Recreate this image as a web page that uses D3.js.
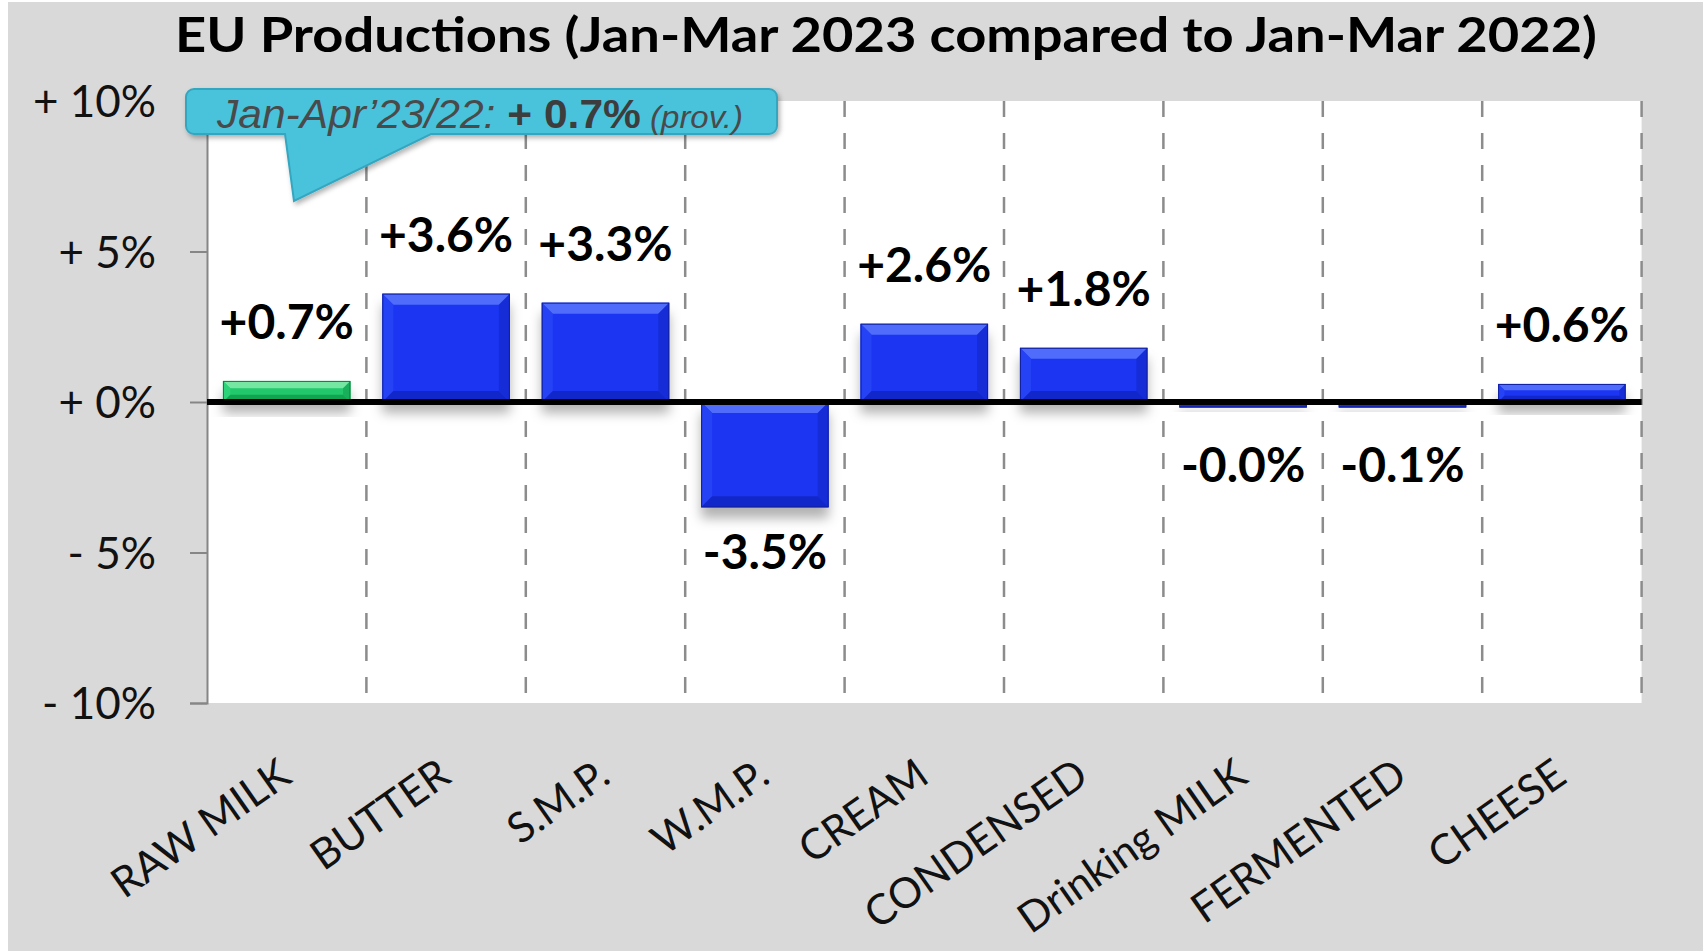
<!DOCTYPE html>
<html>
<head>
<meta charset="utf-8">
<script src="https://cdn.jsdelivr.net/npm/d3@7"></script>
<style>
  html, body { margin: 0; padding: 0; background: #fff; }
  svg { display: block; }
</style>
</head>
<body>
<div id="chart"></div>
<script>
// data
var categories = ["RAW MILK", "BUTTER", "S.M.P.", "W.M.P.", "CREAM", "CONDENSED", "Drinking MILK", "FERMENTED", "CHEESE"];
var changes = [0.7, 3.6, 3.3, -3.5, 2.6, 1.8, -0.04, -0.1, 0.6];
var barGroup = ["milk", "product", "product", "product", "product", "product", "product", "product", "product"];
var yTicks = [10, 5, 0, -5, -10];
var titleText = "EU Productions (Jan-Mar 2023 compared to Jan-Mar 2022)";
var calloutParts = ["Jan-Apr\u201923/22: ", "+ 0.7%", " (prov.)"];

var W = 1708, H = 951;
var plotL = 207, plotR = 1641.6, plotT = 101, plotB = 703;

var svg = d3.select("#chart").append("svg")
    .attr("width", W)
    .attr("height", H);

var defs = svg.append("defs");
defs.append("filter").attr("id", "barShadow")
    .attr("x", "-20%").attr("y", "-30%").attr("width", "140%").attr("height", "200%")
  .append("feDropShadow")
    .attr("dx", 0).attr("dy", 11).attr("stdDeviation", 6)
    .attr("flood-color", "#000").attr("flood-opacity", 0.3);
defs.append("filter").attr("id", "boxShadow")
    .attr("x", "-10%").attr("y", "-20%").attr("width", "120%").attr("height", "160%")
  .append("feDropShadow")
    .attr("dx", 2).attr("dy", 3).attr("stdDeviation", 2.5)
    .attr("flood-color", "#000").attr("flood-opacity", 0.3);

// outer chart area
svg.append("rect")
    .attr("x", 8).attr("y", 2)
    .attr("width", 1695).attr("height", H - 2)
    .attr("fill", "#d9d9d9");

// plot area
svg.append("rect")
    .attr("x", plotL).attr("y", plotT)
    .attr("width", plotR - plotL).attr("height", plotB - plotT)
    .attr("fill", "#fff");

var x = d3.scaleBand()
    .domain(categories)
    .range([plotL, plotR])
    .paddingInner(0.2)
    .paddingOuter(0.1);

var y = d3.scaleLinear()
    .domain([-10, 10])
    .range([plotB, plotT]);

// dashed separators between categories
var step = x.step();
var sepX = d3.range(1, categories.length + 1).map(function (i) { return x.range()[0] + i * step; });
svg.append("g").selectAll("line")
    .data(sepX)
    .join("line")
      .attr("x1", function (d) { return d; })
      .attr("x2", function (d) { return d; })
      .attr("y1", plotT)
      .attr("y2", plotB)
      .attr("stroke", "#8c8c8c")
      .attr("stroke-width", 2.5)
      .attr("stroke-dasharray", "16 16");

// y axis
var yAxis = svg.append("g")
    .attr("transform", "translate(" + plotL + ",0)")
    .call(d3.axisLeft(y)
      .tickValues(yTicks)
      .tickSize(17)
      .tickPadding(34)
      .tickFormat(function (d) { return (d < 0 ? "- " : "+ ") + Math.abs(d) + "%"; }));
yAxis.select(".domain").attr("stroke", "#868686").attr("stroke-width", 2);
yAxis.selectAll(".tick line").attr("stroke", "#868686").attr("stroke-width", 2);
yAxis.selectAll(".tick text")
    .style("font-family", "Lato, 'Open Sans', sans-serif")
    .style("font-size", "44px")
    .attr("fill", "#111")
    .attr("dy", "0.36em");

// bars
var palette = {
  milk:    {main: "#20c86c", top: "#7eeaa8", side: "#2fd47a", dark: "#12a050", edge: "#0e7e3e"},
  product: {main: "#1a36f2", top: "#5572fb", side: "#2844f5", dark: "#1226c4", edge: "#0f1fa0"}
};

var bars = categories.map(function (c, i) {
  var v = changes[i];
  var y0 = Math.min(y(v), y(0)), y1 = Math.max(y(v), y(0));
  return {cat: c, v: v, x: x(c), w: x.bandwidth(), y: y0, h: Math.max(y1 - y0, 5.5), col: palette[barGroup[i]]};
});

var barG = svg.append("g");
var bar = barG.selectAll("g").data(bars).join("g");

bar.append("rect")
    .attr("x", function (d) { return d.x; })
    .attr("y", function (d) { return d.y; })
    .attr("width", function (d) { return d.w; })
    .attr("height", function (d) { return d.h; })
    .attr("fill", function (d) { return d.col.main; })
    .attr("filter", "url(#barShadow)");

// bevel faces
function face(d, which) {
  var b = Math.min(11, d.h * 0.35, d.w * 0.1);
  var x0 = d.x, x1 = d.x + d.w, y0 = d.y, y1 = d.y + d.h;
  var pts = {
    top:    [[x0, y0], [x1, y0], [x1 - b, y0 + b], [x0 + b, y0 + b]],
    left:   [[x0, y0], [x0 + b, y0 + b], [x0 + b, y1 - b], [x0, y1]],
    right:  [[x1, y0], [x1, y1], [x1 - b, y1 - b], [x1 - b, y0 + b]],
    bottom: [[x0, y1], [x1, y1], [x1 - b, y1 - b], [x0 + b, y1 - b]]
  }[which];
  return pts.map(function (p) { return p.join(","); }).join(" ");
}
[["top", "top"], ["left", "side"], ["right", "dark"], ["bottom", "dark"]].forEach(function (f) {
  bar.append("polygon")
      .attr("points", function (d) { return face(d, f[0]); })
      .attr("fill", function (d) { return d.col[f[1]]; })
      .attr("opacity", f[0] == "right" ? 0.6 : 0.9);
});
bar.append("rect")
    .attr("x", function (d) { return d.x + 0.5; })
    .attr("y", function (d) { return d.y + 0.5; })
    .attr("width", function (d) { return d.w - 1; })
    .attr("height", function (d) { return Math.max(d.h - 1, 0.5); })
    .attr("fill", "none")
    .attr("stroke", function (d) { return d.col.edge; })
    .attr("stroke-width", 1);

// zero line
svg.append("line")
    .attr("x1", plotL).attr("x2", plotR)
    .attr("y1", y(0)).attr("y2", y(0))
    .attr("stroke", "#000")
    .attr("stroke-width", 6);

// value labels (small negatives sit a little lower, as in the original)
svg.append("g").selectAll("text")
    .data(bars)
    .join("text")
      .attr("x", function (d) { return d.x + d.w / 2; })
      .attr("y", function (d) { return d.v >= 0 ? y(d.v) - 42 : y(Math.min(d.v, -0.6)) + 62; })
      .attr("text-anchor", "middle")
      .style("font-family", "Lato, 'Open Sans', sans-serif")
      .style("font-weight", "bold")
      .style("font-size", "48px")
      .attr("fill", "#000")
      .text(function (d) { return (d.v < 0 ? "-" : "+") + Math.abs(d.v).toFixed(1) + "%"; });

// category axis
var xAxis = svg.append("g")
    .attr("transform", "translate(0," + plotB + ")")
    .call(d3.axisBottom(x).tickSize(0));
xAxis.select(".domain").remove();
xAxis.selectAll(".tick text")
    .attr("x", 0).attr("y", 0).attr("dy", null)
    .attr("text-anchor", "end")
    .attr("transform", "translate(7,78) rotate(-35)")
    .style("font-family", "Lato, 'Open Sans', sans-serif")
    .style("font-size", "42px")
    .attr("fill", "#111");

// callout box
var cb = {x0: 186, x1: 777, y0: 89, y1: 134, r: 8, pL: 285, pR: 431, tipX: 294, tipY: 201};
var p = d3.path();
p.moveTo(cb.x0 + cb.r, cb.y0);
p.lineTo(cb.x1 - cb.r, cb.y0);
p.arcTo(cb.x1, cb.y0, cb.x1, cb.y0 + cb.r, cb.r);
p.lineTo(cb.x1, cb.y1 - cb.r);
p.arcTo(cb.x1, cb.y1, cb.x1 - cb.r, cb.y1, cb.r);
p.lineTo(cb.pR, cb.y1);
p.lineTo(cb.tipX, cb.tipY);
p.lineTo(cb.pL, cb.y1);
p.lineTo(cb.x0 + cb.r, cb.y1);
p.arcTo(cb.x0, cb.y1, cb.x0, cb.y1 - cb.r, cb.r);
p.lineTo(cb.x0, cb.y0 + cb.r);
p.arcTo(cb.x0, cb.y0, cb.x0 + cb.r, cb.y0, cb.r);
p.closePath();
svg.append("path")
    .attr("d", p.toString())
    .attr("fill", "#49c3dc")
    .attr("stroke", "#36a6bf")
    .attr("stroke-width", 2)
    .attr("filter", "url(#boxShadow)");

var callout = svg.append("text")
    .attr("x", 0).attr("y", 128)
    .style("font-family", "'Liberation Sans Narrow', 'Liberation Sans', Arial, sans-serif")
    .attr("fill", "#4a4a4a");
callout.append("tspan").text(calloutParts[0])
    .style("font-style", "italic").style("font-size", "40px");
callout.append("tspan").text(calloutParts[1])
    .style("font-weight", "bold").style("font-size", "40px").attr("fill", "#3d3d3d");
callout.append("tspan").text(calloutParts[2])
    .style("font-style", "italic").style("font-size", "31px");
var cw = callout.node().getComputedTextLength();
callout.attr("transform", "translate(217,0) scale(" + (526 / cw) + ",1)");

// title
svg.append("text")
    .attr("x", 175).attr("y", 52)
    .attr("textLength", 1422)
    .attr("lengthAdjust", "spacingAndGlyphs")
    .style("font-family", "Lato, 'Open Sans', sans-serif")
    .style("font-weight", "bold")
    .style("font-size", "47px")
    .attr("fill", "#000")
    .text(titleText);
</script>
</body>
</html>
